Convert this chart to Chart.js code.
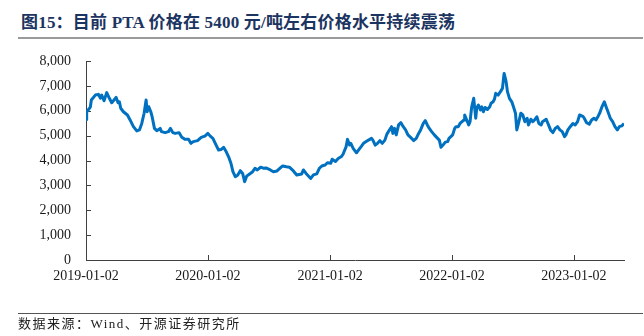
<!DOCTYPE html>
<html><head><meta charset="utf-8">
<script src="https://cdn.jsdelivr.net/npm/chart.js@4.4.0/dist/chart.umd.min.js"></script>
<style>
html,body{margin:0;padding:0;background:#fff;width:644px;height:336px;overflow:hidden;}
#title{position:absolute;left:21px;top:8px;font:bold 17px "Liberation Serif","Noto Sans CJK SC",serif;color:#1c3461;white-space:nowrap;letter-spacing:0.2px;}
#rule1{position:absolute;left:18px;top:37px;width:625px;height:2px;background:#9a9a9a;}
#rule2{position:absolute;left:18px;top:313px;width:625px;height:1px;background:#555;}
#src{position:absolute;left:18px;top:314px;font:13px "Liberation Serif","Noto Sans CJK SC",serif;color:#222;white-space:nowrap;letter-spacing:1.5px;line-height:19px;}
#wrap{position:absolute;left:0;top:0;width:644px;height:336px;}
</style></head>
<body>
<div id="title">图15：目前 PTA 价格在 5400 元/吨左右价格水平持续震荡</div>
<div id="rule1"></div>
<div id="wrap"><canvas id="c" width="644" height="336"></canvas></div>
<div id="rule2"></div>
<div id="src">数据来源：Wind、开源证券研究所</div>
<script>
const xTickLabels = ['2019-01-02','2020-01-02','2021-01-02','2022-01-02','2023-01-02'];
const yTicks = [0,1000,2000,3000,4000,5000,6000,7000,8000];
const dates = [
'2019-01-02','2019-01-04','2019-01-15','2019-01-18','2019-01-30','2019-02-08','2019-02-14','2019-02-18','2019-02-25','2019-03-05',
'2019-03-13','2019-03-20','2019-03-25','2019-04-02','2019-04-08','2019-04-12','2019-04-16','2019-04-24','2019-05-06','2019-05-14',
'2019-05-24','2019-06-03','2019-06-11','2019-06-18','2019-06-25','2019-07-01','2019-07-04','2019-07-09','2019-07-15','2019-07-19',
'2019-07-26','2019-08-02','2019-08-12','2019-08-16','2019-08-27','2019-09-06','2019-09-12','2019-09-19','2019-09-26','2019-10-08',
'2019-10-16','2019-10-25','2019-11-05','2019-11-12','2019-11-20','2019-12-02','2019-12-13','2019-12-24','2020-01-02','2020-01-09',
'2020-01-17','2020-01-23','2020-02-03','2020-02-10','2020-02-18','2020-02-26','2020-03-04','2020-03-11','2020-03-17','2020-03-24',
'2020-03-31','2020-04-08','2020-04-15','2020-04-21','2020-04-27','2020-05-08','2020-05-15','2020-05-22','2020-05-29','2020-06-08',
'2020-06-16','2020-06-24','2020-07-07','2020-07-16','2020-07-27','2020-08-05','2020-08-13','2020-08-24','2020-09-02','2020-09-14',
'2020-09-24','2020-10-09','2020-10-14','2020-10-22','2020-10-29','2020-11-05','2020-11-13','2020-11-23','2020-12-01','2020-12-08',
'2020-12-18','2020-12-25','2021-01-04','2021-01-08','2021-01-18','2021-01-27','2021-02-04','2021-02-10','2021-02-19','2021-02-23',
'2021-03-01','2021-03-05','2021-03-12','2021-03-22','2021-03-29','2021-04-06','2021-04-12','2021-04-20','2021-04-27','2021-05-06',
'2021-05-10','2021-05-17','2021-05-24','2021-05-31','2021-06-07','2021-06-15','2021-06-21','2021-06-29','2021-07-05','2021-07-09',
'2021-07-14','2021-07-19','2021-07-26','2021-08-02','2021-08-09','2021-08-16','2021-08-23','2021-08-31','2021-09-09','2021-09-17',
'2021-09-24','2021-09-30','2021-10-08','2021-10-14','2021-10-20','2021-10-26','2021-11-02','2021-11-10','2021-11-17','2021-11-25',
'2021-11-30','2021-12-06','2021-12-13','2021-12-20','2021-12-24','2022-01-04','2022-01-10','2022-01-14','2022-01-21','2022-01-26',
'2022-02-07','2022-02-09','2022-02-15','2022-02-21','2022-02-25','2022-03-02','2022-03-08','2022-03-14','2022-03-17','2022-03-22',
'2022-03-28','2022-04-01','2022-04-06','2022-04-11','2022-04-18','2022-04-25','2022-04-29','2022-05-05','2022-05-09','2022-05-13',
'2022-05-20','2022-05-27','2022-06-02','2022-06-07','2022-06-13','2022-06-17','2022-06-23','2022-06-30','2022-07-05','2022-07-11',
'2022-07-15','2022-07-20','2022-07-27','2022-08-02','2022-08-08','2022-08-15','2022-08-19','2022-08-26','2022-09-01','2022-09-08',
'2022-09-13','2022-09-19','2022-09-26','2022-09-30','2022-10-11','2022-10-18','2022-10-24','2022-10-31','2022-11-07','2022-11-14',
'2022-11-21','2022-11-28','2022-12-05','2022-12-09','2022-12-15','2022-12-22','2022-12-30','2023-01-06','2023-01-13','2023-01-19',
'2023-01-30','2023-02-02','2023-02-09','2023-02-17','2023-02-24','2023-03-03','2023-03-09','2023-03-16','2023-03-21','2023-03-27',
'2023-04-03','2023-04-10','2023-04-14','2023-04-21','2023-04-28','2023-05-05','2023-05-12','2023-05-18','2023-05-25','2023-06-01'
];
const prices = [
5650,5950,6150,6430,6630,6660,6510,6630,6400,6730,
6500,6320,6400,6540,6320,6360,6100,5960,5830,5630,
5360,5190,5230,5490,5900,6430,5960,6160,5960,5760,
5290,5200,5290,5160,5120,5160,5290,5120,5090,5120,
4930,4850,4850,4690,4760,4800,4930,4980,5090,4980,
4890,4720,4420,4440,4530,4350,4150,3890,3550,3350,
3410,3590,3480,3150,3370,3480,3550,3690,3620,3730,
3690,3700,3620,3550,3580,3690,3780,3750,3730,3580,
3420,3460,3620,3480,3380,3280,3420,3460,3690,3780,
3820,3910,3890,4050,3960,4090,4150,4260,4560,4850,
4620,4690,4490,4310,4440,4580,4690,4760,4820,4890,
4820,4620,4690,4800,4690,4820,5060,5230,5360,5090,
5290,5030,5430,5520,5360,5230,5030,4930,4800,4890,
5090,5230,5490,5600,5430,5290,5160,5030,4930,4820,
4530,4620,4740,4760,4890,5030,5290,5360,5360,5490,
5630,5830,5630,5430,5560,6160,6500,5700,6100,6230,
6030,6160,5960,6130,6050,6160,6300,6360,6460,6700,
6630,6770,6900,7500,7170,6770,6500,6360,6160,5900,
5230,5490,5900,5830,5560,5700,5430,5660,5560,5660,
5760,5490,5430,5560,5660,5430,5230,5120,5290,5360,
5230,5160,4960,5030,5230,5360,5490,5430,5560,5830,
5760,5700,5520,5460,5630,5700,5630,5790,5930,6160,
6360,6100,5960,5700,5560,5360,5230,5360,5390,5490
];

function dayOf(s){const p=s.split('-').map(Number);return (Date.UTC(p[0],p[1]-1,p[2])-Date.UTC(2019,0,2))/86400000;}
const points = dates.map((d,i)=>({x:dayOf(d),y:prices[i]}));
const tickMap = {}; xTickLabels.forEach(l=>{tickMap[dayOf(l)]=l;});

const innerTicks={id:'innerTicks',beforeDatasetsDraw(c){
  const ctx=c.ctx,xs=c.scales.x,ys=c.scales.y,a=c.chartArea;
  ctx.save();ctx.strokeStyle='#404040';ctx.lineWidth=1;ctx.beginPath();
  ys.ticks.forEach(t=>{const py=Math.round(ys.getPixelForValue(t.value))+0.5;ctx.moveTo(a.left,py);ctx.lineTo(a.left+5,py);});
  xs.ticks.forEach(t=>{const px=Math.round(xs.getPixelForValue(t.value))+0.5;ctx.moveTo(px,a.bottom);ctx.lineTo(px,a.bottom-5);});
  ctx.stroke();ctx.restore();}};

new Chart(document.getElementById('c'),{
  type:'line',
  data:{datasets:[{data:points,borderColor:'#0070c0',borderWidth:3,pointRadius:0,tension:0,fill:false,borderJoinStyle:'round'}]},
  options:{
    responsive:false,animation:false,
    layout:{padding:{left:0,right:20,top:61,bottom:46}},
    plugins:{legend:{display:false},tooltip:{enabled:false},title:{display:false}},
    scales:{
      x:{type:'linear',min:0,max:dayOf(dates[dates.length-1]),
        afterBuildTicks:(s)=>{s.ticks=xTickLabels.map(l=>({value:dayOf(l)}));},
        ticks:{callback:(v)=>tickMap[v]||'',font:{family:'"Liberation Serif"',size:14},color:'#1a1a1a',padding:8,maxRotation:0,autoSkip:false},
        grid:{display:false,drawTicks:false},
        border:{display:true,color:'#404040',width:1},
        afterFit:(s)=>{s.height=30;}},
      y:{min:0,max:8000,
        afterBuildTicks:(s)=>{s.ticks=yTicks.map(v=>({value:v}));},
        ticks:{callback:(v)=>v.toLocaleString('en-US'),font:{family:'"Liberation Serif"',size:14},color:'#1a1a1a',padding:15},
        grid:{display:false,drawTicks:false},
        border:{display:true,color:'#404040',width:1},
        afterFit:(s)=>{s.width=86;}}
    }
  },
  plugins:[innerTicks]
});
</script>
</body></html>
